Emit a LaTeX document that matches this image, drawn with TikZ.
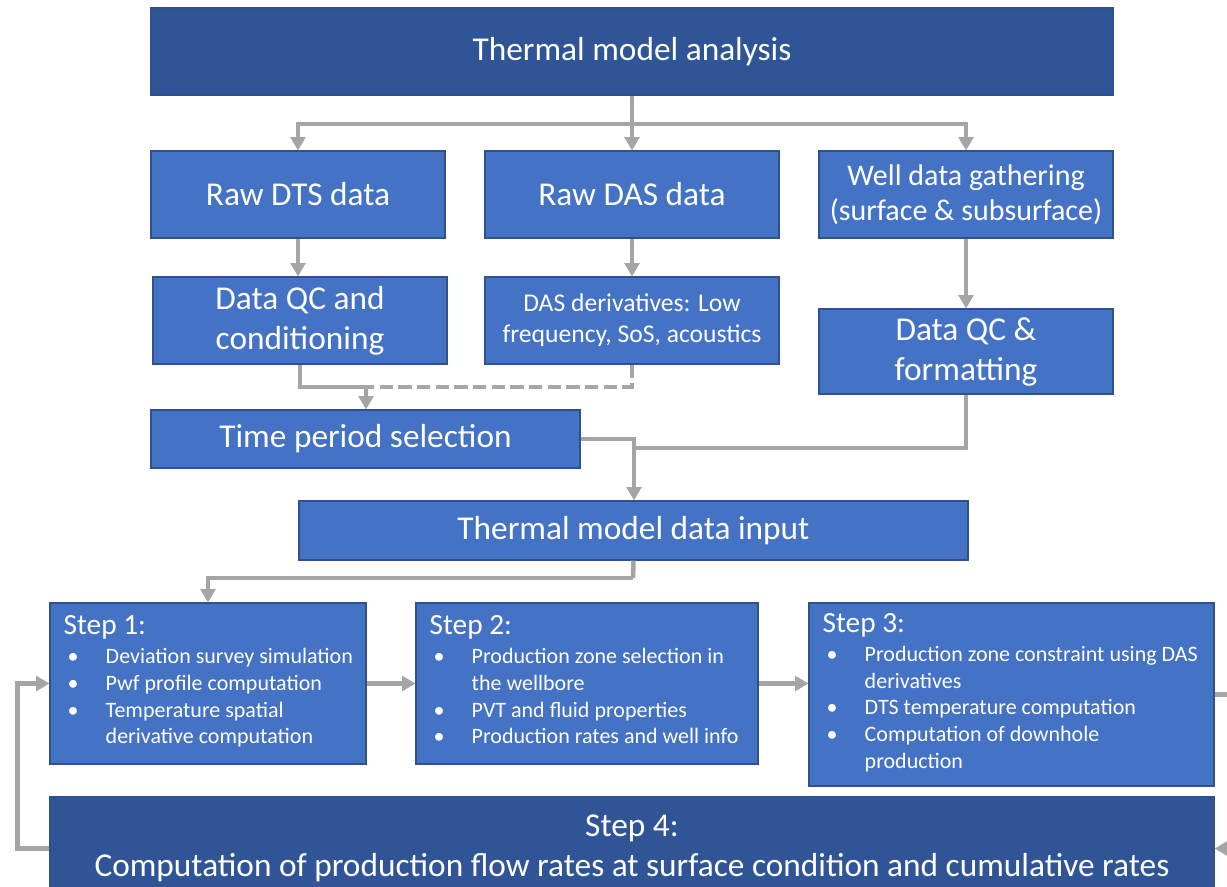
\documentclass[tikz,border=0pt]{standalone}
\usepackage{fontspec}
\setmainfont{Carlito}
\usetikzlibrary{arrows.meta,positioning}
\definecolor{darkbl}{HTML}{2F5597}
\definecolor{midbl}{HTML}{4472C4}
\definecolor{edgebl}{HTML}{2F528F}
\definecolor{conng}{HTML}{A5A5A5}
\newcommand\stephead[1]{\multicolumn{2}{@{}l@{}}{\fontsize{22}{24}\selectfont #1}\\[2pt]}
\newenvironment{steplist}{\begin{tabular}{@{\hspace{3pt}}p{28.5pt}@{}l@{}}}{\end{tabular}}
\begin{document}
\begin{tikzpicture}[x=0.75pt,y=-0.75pt,
  boxm/.style={draw=edgebl,line width=0.8pt,fill=midbl,text=white,inner sep=0pt,align=center,
    minimum width=220.5pt,minimum height=65.25pt,font=\fontsize{25}{30}\selectfont},
  boxd/.style={boxm,fill=darkbl},
  stepbox/.style={draw=edgebl,line width=0.8pt,fill=midbl,inner sep=0pt},
  steptext/.style={anchor=west,inner sep=0pt,text=white,font=\fontsize{16.5}{20}\selectfont},
  line/.style={draw=conng,line width=3.4pt},
  arr/.style={line,-{Triangle[width=11pt,length=10pt]}},
  dsh/.style={line,dash pattern=on 10pt off 4pt}]
\useasboundingbox (0,0) rectangle (1227,886);

\node[boxd,minimum width=721.5pt] (top) at (632,51.5) {Thermal model analysis};
\node[boxm] (dts) at (298,194.5) {Raw DTS data};
\node[boxm] (das) at (632,194.5) {Raw DAS data};
\node[boxm,font=\fontsize{22.5}{26.25}\selectfont] (well) at (966,194.5) {Well data gathering\\(surface \& subsurface)};
\node[boxm] (qc) at (300,320.5) {Data QC and\\conditioning};
\node[boxm,font=\fontsize{19.2}{23.25}\selectfont] (dasd) at (632,320.5) {DAS derivatives: Low\\frequency, SoS, acoustics};
\node[boxm,minimum height=63.75pt] (qcf) at (966,351.5) {Data QC \&\\formatting};
\node[boxm,minimum width=321.75pt,minimum height=43.5pt] (time) at (365.5,439) {Time period selection};
\node[boxm,minimum width=501.75pt,minimum height=44.25pt] (input) at (633.5,530.5) {Thermal model data input};

\node[stepbox,minimum width=237pt,minimum height=120.75pt] (s1) at (208,683.5) {};
\node[steptext] (s1t) at ([xshift=10.5pt]s1.west) {\begin{steplist}
\stephead{Step 1:}
\textbullet & Deviation survey simulation\\
\textbullet & Pwf profile computation\\
\textbullet & Temperature spatial\\
 & derivative computation
\end{steplist}};
\node[stepbox,minimum width=256.5pt,minimum height=120.75pt] (s2) at (587,683.5) {};
\node[steptext] (s2t) at ([xshift=10.5pt]s2.west) {\begin{steplist}
\stephead{Step 2:}
\textbullet & Production zone selection in\\
 & the wellbore\\
\textbullet & PVT and fluid properties\\
\textbullet & Production rates and well info
\end{steplist}};
\node[stepbox,minimum width=303.75pt,minimum height=137.25pt] (s3) at (1011.5,694.5) {};
\node[steptext] (s3t) at ([xshift=10.5pt]s3.west) {\begin{steplist}
\stephead{Step 3:}
\textbullet & Production zone constraint using DAS\\
 & derivatives\\
\textbullet & DTS temperature computation\\
\textbullet & Computation of downhole\\
 & production
\end{steplist}};
\node[boxd,minimum width=873pt,minimum height=77.25pt,font=\fontsize{25}{30}\selectfont] (s4) at (632,848.5) {Step 4:\\Computation of production flow rates at surface condition and cumulative rates};

% connectors
\coordinate (j1) at (632,124);
\draw[line] (top.south) -- (j1);
\draw[arr] (j1) -| (dts.north);
\draw[arr] (j1) -- (das.north);
\draw[arr] (j1) -| (well.north);
\draw[arr] (dts.south) -- (dts.south |- qc.north);
\draw[arr] (das.south) -- (das.south |- dasd.north);
\draw[arr] (well.south) -- (well.south |- qcf.north);
\coordinate (j2) at (366,387);
\draw[dsh] (dasd.south) |- (j2);
\draw[line] (qc.south) |- (j2);
\draw[arr] (j2) -- (j2 |- time.north);
\coordinate (j3) at (634,448);
\draw[line] (time.east) -| (j3);
\draw[line] (qcf.south) |- (j3);
\draw[arr] (j3) -- (j3 |- input.north);
\coordinate (j4) at (633,578);
\draw[line] (input.south) -- (j4);
\draw[arr] (j4) -| (s1.north);
\draw[arr] (s1.east) -- (s1.east -| s2.west);
\draw[arr] (s2.east) -- (s2.east -| s3.west);
\draw[arr] (s3.east) -- ++(30,0) |- (s4.east);
\draw[arr] (s4.west) -- ++(-32,0) |- (s1.west);
\end{tikzpicture}
\end{document}
